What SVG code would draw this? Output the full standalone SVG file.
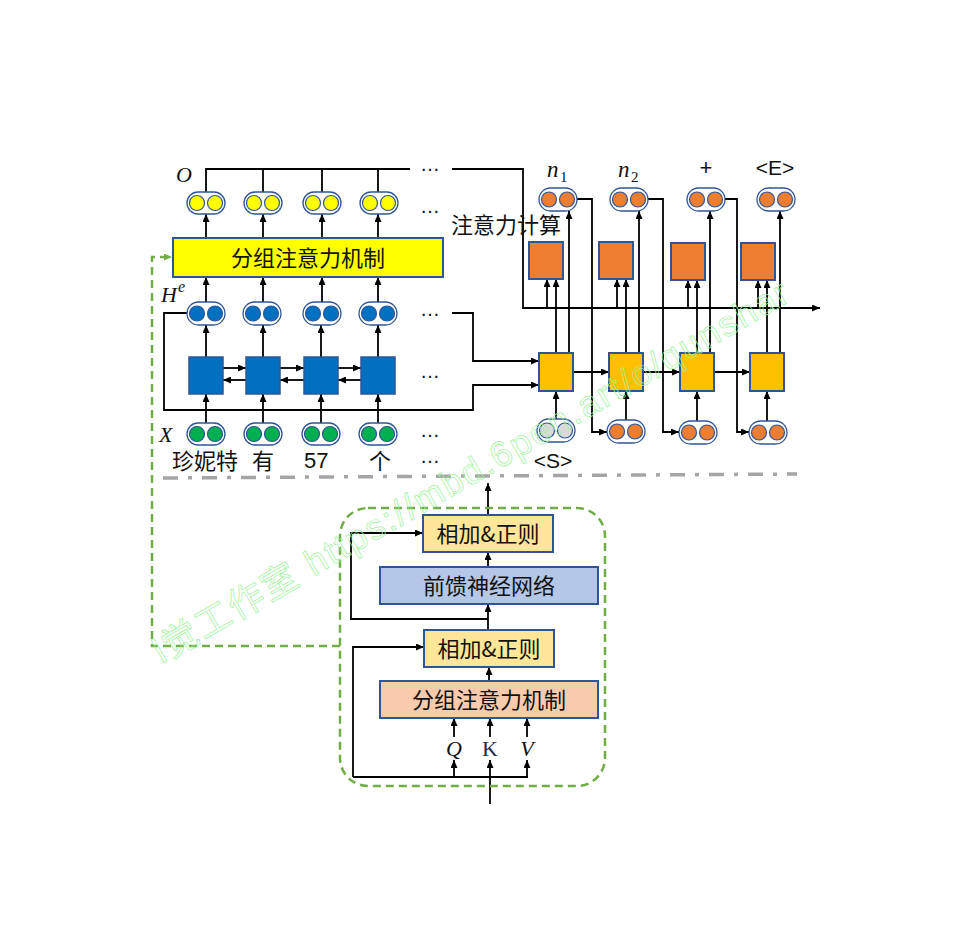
<svg xmlns="http://www.w3.org/2000/svg" width="956" height="948" viewBox="0 0 956 948">
<defs>
<marker id="ah" markerWidth="8" markerHeight="7" refX="8" refY="3.5" orient="auto" markerUnits="userSpaceOnUse"><path d="M0,0 L8,3.5 L0,7 z" fill="#000"/></marker>
<marker id="gah" markerWidth="8" markerHeight="7" refX="8" refY="3.5" orient="auto" markerUnits="userSpaceOnUse"><path d="M0,0 L8,3.5 L0,7 z" fill="#70AD47"/></marker>
<style>
.ln{fill:none;stroke:#000;stroke-width:1.8}
.ar{fill:none;stroke:#000;stroke-width:1.8;marker-end:url(#ah)}
.cap{fill:#fff;stroke:#2F5597;stroke-width:1.3}
.c{stroke:#2F5597;stroke-width:1.2}
.y{fill:#FFFF00}.b{fill:#0070C0}.g{fill:#00B050}.o{fill:#ED7D31}.gr{fill:#D9D9D9}
.bx{stroke:#2F5597;stroke-width:2}
.cjk{font-family:"Noto Sans CJK SC","Noto Sans",sans-serif;font-size:22px;fill:#111}
.lat{font-family:"Liberation Sans",Arial,sans-serif;fill:#111}
.mth{font-family:"Liberation Serif","Times New Roman",serif;font-style:italic;fill:#111}
.dots{font-family:"Liberation Sans",Arial,sans-serif;font-size:20px;fill:#111}
.gd{fill:none;stroke:#70AD47;stroke-width:2.5;stroke-dasharray:8 5}
</style>
</defs>
<rect width="956" height="948" fill="#fff"/>

<g id="connectors">
<polyline class="ln" points="206,192 206,169 410,169"/>
<line class="ln" x1="263" y1="192" x2="263" y2="169"/>
<line class="ln" x1="322" y1="192" x2="322" y2="169"/>
<line class="ln" x1="378" y1="192" x2="378" y2="169"/>
<polyline class="ar" points="452,169 523,169 523,308 820,308"/>
<line class="ar" x1="206" y1="238" x2="206" y2="214"/>
<line class="ar" x1="263" y1="238" x2="263" y2="214"/>
<line class="ar" x1="322" y1="238" x2="322" y2="214"/>
<line class="ar" x1="378" y1="238" x2="378" y2="214"/>
<line class="ar" x1="206" y1="302" x2="206" y2="277"/>
<line class="ar" x1="263" y1="302" x2="263" y2="277"/>
<line class="ar" x1="322" y1="302" x2="322" y2="277"/>
<line class="ar" x1="378" y1="302" x2="378" y2="277"/>
<line class="ar" x1="206" y1="357" x2="206" y2="325"/>
<line class="ar" x1="263" y1="357" x2="263" y2="325"/>
<line class="ar" x1="321" y1="357" x2="321" y2="325"/>
<line class="ar" x1="378" y1="357" x2="378" y2="325"/>
<line class="ar" x1="206" y1="423" x2="206" y2="394"/>
<line class="ar" x1="263" y1="423" x2="263" y2="394"/>
<line class="ar" x1="321" y1="423" x2="321" y2="394"/>
<line class="ar" x1="378" y1="423" x2="378" y2="394"/>
<line class="ar" x1="223" y1="368" x2="246" y2="368"/>
<line class="ar" x1="280" y1="368" x2="304" y2="368"/>
<line class="ar" x1="338" y1="368" x2="361" y2="368"/>
<line class="ar" x1="246" y1="380" x2="223" y2="380"/>
<line class="ar" x1="304" y1="380" x2="280" y2="380"/>
<line class="ar" x1="361" y1="380" x2="338" y2="380"/>
<polyline class="ar" points="187,313 164,313 164,410 473,410 473,385 539,385"/>
<polyline class="ar" points="452,313 473,313 473,361 539,361"/>
<line class="ar" x1="547" y1="308" x2="547" y2="279"/>
<line class="ar" x1="556" y1="353" x2="556" y2="279"/>
<line class="ar" x1="569" y1="353" x2="569" y2="211"/>
<line class="ar" x1="617" y1="308" x2="617" y2="279"/>
<line class="ar" x1="626" y1="353" x2="626" y2="279"/>
<line class="ar" x1="639" y1="353" x2="639" y2="211"/>
<line class="ar" x1="688" y1="308" x2="688" y2="280"/>
<line class="ar" x1="697" y1="353" x2="697" y2="280"/>
<line class="ar" x1="710" y1="353" x2="710" y2="211"/>
<line class="ar" x1="758" y1="308" x2="758" y2="280"/>
<line class="ar" x1="767" y1="353" x2="767" y2="280"/>
<line class="ar" x1="780" y1="353" x2="780" y2="211"/>
<polyline class="ar" points="577,199 592,199 592,432 607,432"/>
<polyline class="ar" points="648,199 663,199 663,432 679,432"/>
<polyline class="ar" points="725,199 737,199 737,432 749,432"/>
<line class="ar" x1="556" y1="419" x2="556" y2="391"/>
<line class="ar" x1="626" y1="420" x2="626" y2="391"/>
<line class="ar" x1="697" y1="421" x2="697" y2="391"/>
<line class="ar" x1="767" y1="421" x2="767" y2="391"/>
<line class="ar" x1="573" y1="372" x2="609" y2="372"/>
<line class="ar" x1="643" y1="372" x2="680" y2="372"/>
<line class="ar" x1="714" y1="372" x2="750" y2="372"/>
<line x1="163" y1="478" x2="797" y2="474" stroke="#A5A5A5" stroke-width="3.5" stroke-dasharray="15 10 4 10"/>
<line class="ar" x1="488" y1="515" x2="488" y2="483"/>
<line class="ar" x1="488" y1="567" x2="488" y2="552"/>
<line class="ar" x1="488" y1="630" x2="488" y2="604"/>
<polyline class="ar" points="488,619 351,619 351,533 423,533"/>
<line class="ar" x1="489" y1="681" x2="489" y2="667"/>
<polyline class="ar" points="353,777 353,647 424,647"/>
<line class="ln" x1="353" y1="777" x2="528" y2="777"/>
<line class="ar" x1="454" y1="777" x2="454" y2="760"/>
<line class="ar" x1="527" y1="777" x2="527" y2="760"/>
<line class="ar" x1="490" y1="804" x2="490" y2="760"/>
<line class="ar" x1="454" y1="737" x2="454" y2="718"/>
<line class="ar" x1="490" y1="737" x2="490" y2="718"/>
<line class="ar" x1="527" y1="737" x2="527" y2="718"/>
<polyline class="gd" points="340,646 152,646 152,257 172,257" marker-end="url(#gah)"/>
</g>

<g id="enc-attn">
<rect class="bx" x="173" y="238" width="270" height="39" fill="#FFFF00"/>
<text class="cjk" x="308" y="266" text-anchor="middle">分组注意力机制</text>
</g>

<g id="O-row">
<rect class="cap" x="187" y="192" width="38" height="22" rx="11"/><circle class="c y" cx="197" cy="203" r="7.5"/><circle class="c y" cx="215" cy="203" r="7.5"/>
<rect class="cap" x="244" y="192" width="38" height="22" rx="11"/><circle class="c y" cx="254" cy="203" r="7.5"/><circle class="c y" cx="272" cy="203" r="7.5"/>
<rect class="cap" x="303" y="192" width="38" height="22" rx="11"/><circle class="c y" cx="313" cy="203" r="7.5"/><circle class="c y" cx="331" cy="203" r="7.5"/>
<rect class="cap" x="360" y="192" width="38" height="22" rx="11"/><circle class="c y" cx="370" cy="203" r="7.5"/><circle class="c y" cx="388" cy="203" r="7.5"/>
<text class="mth" x="176" y="182" font-size="22">O</text>
</g>

<g id="He-row">
<rect class="cap" x="187" y="302" width="38" height="23" rx="11.5"/><circle class="c b" cx="197" cy="313.5" r="7.5"/><circle class="c b" cx="215" cy="313.5" r="7.5"/>
<rect class="cap" x="243" y="302" width="38" height="23" rx="11.5"/><circle class="c b" cx="253" cy="313.5" r="7.5"/><circle class="c b" cx="271" cy="313.5" r="7.5"/>
<rect class="cap" x="303" y="302" width="38" height="23" rx="11.5"/><circle class="c b" cx="313" cy="313.5" r="7.5"/><circle class="c b" cx="331" cy="313.5" r="7.5"/>
<rect class="cap" x="359" y="302" width="38" height="23" rx="11.5"/><circle class="c b" cx="369" cy="313.5" r="7.5"/><circle class="c b" cx="387" cy="313.5" r="7.5"/>
<text class="mth" x="161" y="302" font-size="22">H</text><text class="mth" x="178" y="292" font-size="16">e</text>
</g>

<g id="lstm">
<rect x="189" y="357" width="34" height="37" fill="#0070C0" stroke="#2F5597" stroke-width="1.5"/>
<rect x="246" y="357" width="34" height="37" fill="#0070C0" stroke="#2F5597" stroke-width="1.5"/>
<rect x="304" y="357" width="34" height="37" fill="#0070C0" stroke="#2F5597" stroke-width="1.5"/>
<rect x="361" y="357" width="34" height="37" fill="#0070C0" stroke="#2F5597" stroke-width="1.5"/>
</g>

<g id="X-row">
<rect class="cap" x="187" y="423" width="38" height="22" rx="11"/><circle class="c g" cx="197" cy="434" r="7.5"/><circle class="c g" cx="215" cy="434" r="7.5"/>
<rect class="cap" x="244" y="423" width="38" height="22" rx="11"/><circle class="c g" cx="254" cy="434" r="7.5"/><circle class="c g" cx="272" cy="434" r="7.5"/>
<rect class="cap" x="302" y="423" width="38" height="22" rx="11"/><circle class="c g" cx="312" cy="434" r="7.5"/><circle class="c g" cx="330" cy="434" r="7.5"/>
<rect class="cap" x="359" y="423" width="38" height="22" rx="11"/><circle class="c g" cx="369" cy="434" r="7.5"/><circle class="c g" cx="387" cy="434" r="7.5"/>
<text class="mth" x="159" y="442" font-size="22">X</text>
</g>

<g id="words">
<text class="cjk" x="172" y="469">珍妮特</text>
<text class="cjk" x="252" y="469">有</text>
<text class="lat" x="304" y="468" font-size="22">57</text>
<text class="cjk" x="369" y="469">个</text>
<text class="dots" x="420" y="171">…</text>
<text class="dots" x="420" y="213">…</text>
<text class="dots" x="420" y="316">…</text>
<text class="dots" x="420" y="378">…</text>
<text class="dots" x="420" y="437">…</text>
<text class="dots" x="420" y="463">…</text>
</g>

<g id="attn-calc">
<text class="cjk" x="451" y="233">注意力计算</text>
<rect class="bx" x="529" y="242" width="34" height="37" fill="#ED7D31"/>
<rect class="bx" x="599" y="242" width="34" height="37" fill="#ED7D31"/>
<rect class="bx" x="671" y="243" width="34" height="37" fill="#ED7D31"/>
<rect class="bx" x="741" y="243" width="34" height="37" fill="#ED7D31"/>
</g>

<g id="dec-out">
<rect class="cap" x="539" y="188" width="38" height="23" rx="11.5"/><circle class="c o" cx="549" cy="199.5" r="7.5"/><circle class="c o" cx="567" cy="199.5" r="7.5"/>
<rect class="cap" x="610" y="188" width="38" height="23" rx="11.5"/><circle class="c o" cx="620" cy="199.5" r="7.5"/><circle class="c o" cx="638" cy="199.5" r="7.5"/>
<rect class="cap" x="687" y="188" width="38" height="23" rx="11.5"/><circle class="c o" cx="697" cy="199.5" r="7.5"/><circle class="c o" cx="715" cy="199.5" r="7.5"/>
<rect class="cap" x="757" y="188" width="38" height="23" rx="11.5"/><circle class="c o" cx="767" cy="199.5" r="7.5"/><circle class="c o" cx="785" cy="199.5" r="7.5"/>
<text class="mth" x="547" y="177" font-size="23">n</text><text x="560" y="182" font-size="15" font-family="Liberation Serif,serif" fill="#111">1</text>
<text class="mth" x="618" y="177" font-size="23">n</text><text x="631" y="182" font-size="15" font-family="Liberation Serif,serif" fill="#111">2</text>
<text class="lat" x="706" y="175" font-size="22" text-anchor="middle">+</text>
<text class="lat" x="775" y="175" font-size="21" text-anchor="middle">&lt;E&gt;</text>
</g>

<g id="decoder">
<rect class="bx" x="539" y="353" width="34" height="38" fill="#FFC000"/>
<rect class="bx" x="609" y="353" width="34" height="38" fill="#FFC000"/>
<rect class="bx" x="680" y="353" width="34" height="38" fill="#FFC000"/>
<rect class="bx" x="750" y="353" width="34" height="38" fill="#FFC000"/>
</g>

<g id="dec-in">
<rect class="cap" x="537" y="419" width="38" height="23" rx="11.5"/><circle class="c gr" cx="547" cy="430.5" r="7.5"/><circle class="c gr" cx="565" cy="430.5" r="7.5"/>
<rect class="cap" x="607" y="420" width="38" height="23" rx="11.5"/><circle class="c o" cx="617" cy="431.5" r="7.5"/><circle class="c o" cx="635" cy="431.5" r="7.5"/>
<rect class="cap" x="679" y="421" width="38" height="23" rx="11.5"/><circle class="c o" cx="689" cy="432.5" r="7.5"/><circle class="c o" cx="707" cy="432.5" r="7.5"/>
<rect class="cap" x="749" y="421" width="38" height="23" rx="11.5"/><circle class="c o" cx="759" cy="432.5" r="7.5"/><circle class="c o" cx="777" cy="432.5" r="7.5"/>
<text class="lat" x="553" y="468" font-size="21" text-anchor="middle">&lt;S&gt;</text>
</g>

<g id="block">
<rect class="gd" x="340" y="508" width="265" height="278" rx="28"/>
<rect class="bx" x="423" y="515" width="130" height="37" fill="#FFE699"/>
<text class="cjk" x="488" y="542" text-anchor="middle">相加&amp;正则</text>
<rect class="bx" x="380" y="567" width="218" height="37" fill="#B4C7E7"/>
<text class="cjk" x="489" y="594" text-anchor="middle">前馈神经网络</text>
<rect class="bx" x="424" y="630" width="130" height="37" fill="#FFE699"/>
<text class="cjk" x="489" y="657" text-anchor="middle">相加&amp;正则</text>
<rect class="bx" x="380" y="681" width="218" height="37" fill="#F8CBAD"/>
<text class="cjk" x="489" y="708" text-anchor="middle">分组注意力机制</text>
<text class="mth" x="454" y="756" font-size="22" text-anchor="middle" fill="#1F2D50">Q</text>
<text x="490" y="756" font-size="22" text-anchor="middle" font-family="Liberation Serif,serif" fill="#1F2D50">K</text>
<text class="mth" x="527" y="756" font-size="22" text-anchor="middle" fill="#1F2D50">V</text>
</g>

<g id="watermark">
<text x="162" y="664" transform="rotate(-30 162 664)" font-family="Liberation Sans,Noto Sans CJK SC,sans-serif" font-size="36" textLength="727" lengthAdjust="spacing" fill="none" stroke="#9CF29C" stroke-width="0.7">l觉工作室 https://mbd.6pen.art/o/qunshar</text>
</g>
</svg>
